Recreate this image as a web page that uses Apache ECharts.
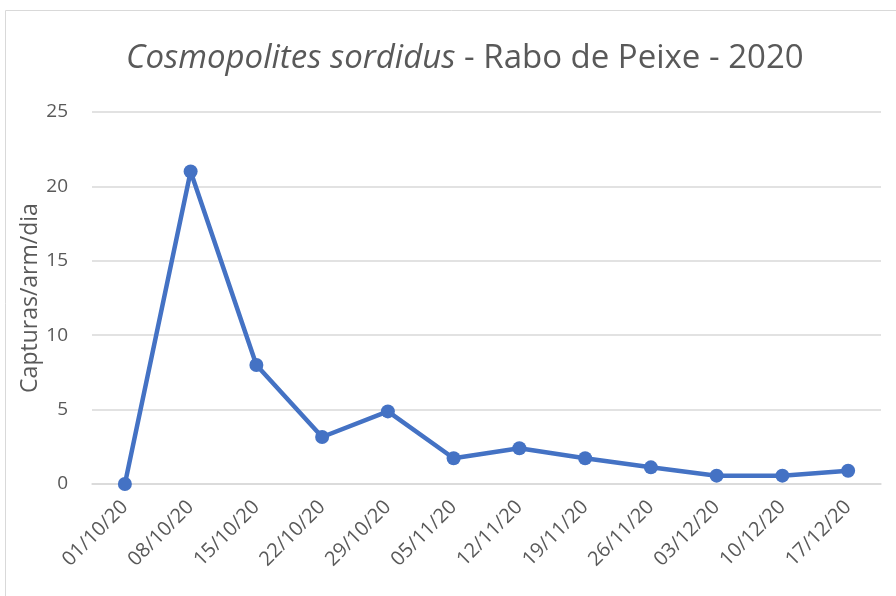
<!DOCTYPE html>
<html>
<head>
<meta charset="utf-8">
<script src="https://cdn.jsdelivr.net/npm/echarts@6/dist/echarts.min.js"></script>
<style>
  html, body { margin: 0; padding: 0; background: #fff; }
  #chart { width: 896px; height: 596px; }
</style>
</head>
<body>
<div id="chart"></div>
<script>
// datas de recolha
const dates = ['01/10/20', '08/10/20', '15/10/20', '22/10/20', '29/10/20', '05/11/20',
  '12/11/20', '19/11/20', '26/11/20', '03/12/20', '10/12/20', '17/12/20'];
// capturas por armadilha por dia
const captures = [0, 21, 8.0, 3.16, 4.88, 1.73, 2.4, 1.73, 1.12, 0.56, 0.56, 0.89];
const yTicks = [0, 5, 10, 15, 20, 25];

const font = 'Open Sans';
const grey = '#595959';

const chart = echarts.init(document.getElementById('chart'));
chart.setOption({
  animation: false,
  textStyle: { fontFamily: font },
  graphic: [{
    type: 'rect',
    shape: { x: 5.5, y: 10.5, width: 1000, height: 1000 },
    style: { fill: 'none', stroke: '#d9d9d9', lineWidth: 1 },
    silent: true,
  }],
  title: {
    left: 121,
    top: 37,
    text: '{i|Cosmopolites sordidus}{n| - Rabo de Peixe - 2020}',
    textStyle: {
      fontWeight: 'normal',
      rich: {
        i: { fontSize: 33, fontStyle: 'italic', fontWeight: 'normal', color: grey, fontFamily: font },
        n: { fontSize: 33, fontWeight: 'normal', color: grey, fontFamily: font },
      },
    },
  },
  grid: { left: 92, right: 15, top: 112, bottom: 112 },
  xAxis: {
    type: 'category',
    boundaryGap: true,
    data: dates,
    axisLine: { lineStyle: { color: '#d9d9d9', width: 1.5 } },
    axisTick: { show: false },
    axisLabel: {
      interval: 0,
      rotate: 45,
      margin: 20,
      fontSize: 20,
      color: grey,
      fontFamily: font,
    },
  },
  yAxis: {
    type: 'value',
    min: yTicks[0],
    max: yTicks[yTicks.length - 1],
    interval: 5,
    name: 'Capturas/arm/dia',
    nameLocation: 'middle',
    nameGap: 50,
    nameMoveOverlap: false,
    nameTextStyle: { fontSize: 23, color: grey, fontFamily: font },
    axisLine: { show: false },
    axisTick: { show: false },
    axisLabel: { margin: 24, fontSize: 19, color: grey, fontFamily: font },
    splitLine: { lineStyle: { color: '#d9d9d9', width: 1.5 } },
  },
  series: [{
    type: 'line',
    data: captures,
    symbol: 'circle',
    symbolSize: 14,
    lineStyle: { color: '#4472C4', width: 4.5 },
    itemStyle: { color: '#4472C4' },
  }],
});
</script>
</body>
</html>
